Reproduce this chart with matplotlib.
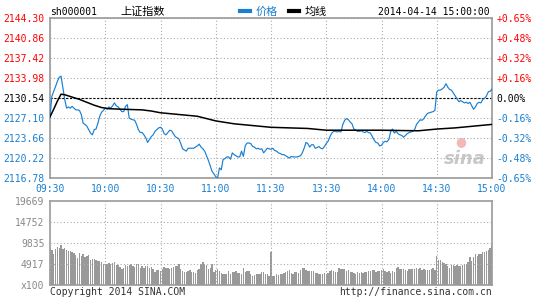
import numpy as np
import matplotlib.pyplot as plt
from matplotlib.lines import Line2D

# intraday price, one value per minute (9:30-11:30, 13:01-15:00)
price_0930 = [2127.3, 2130.8, 2131.7, 2132.5, 2133.4, 2134.1, 2134.3, 2132.3, 2130.3, 2128.8, 2129.0,
              2128.8, 2129.1, 2128.8, 2128.5, 2128.5, 2128.4, 2127.7, 2126.2, 2126.0, 2125.7,
              2125.1, 2124.5, 2124.2, 2125.1, 2125.2, 2126.2, 2127.4, 2128.1, 2128.4, 2128.8]
price_1000 = [2128.6, 2129.0, 2128.8, 2129.2, 2129.7, 2129.2, 2129.0, 2128.6, 2128.2, 2128.2,
              2129.1, 2129.4, 2127.1, 2126.9, 2126.8, 2126.7, 2126.0, 2125.1, 2124.6, 2124.6,
              2124.2, 2123.7, 2122.9, 2123.4, 2123.9, 2124.2, 2124.8, 2125.1, 2125.4, 2125.5]
price_1030 = [2125.2, 2124.4, 2124.2, 2124.6, 2125.0, 2124.9, 2124.4, 2123.9, 2123.7, 2123.5,
              2122.7, 2121.8, 2121.6, 2121.4, 2121.9, 2121.9, 2121.9, 2121.9, 2122.1, 2122.3,
              2122.6, 2122.1, 2121.8, 2121.4, 2120.6, 2119.8, 2118.9, 2117.9, 2117.5, 2117.0]
price_1100 = [2116.8, 2118.5, 2118.2, 2120.0, 2120.1, 2120.4, 2120.4, 2120.0, 2121.1, 2120.8,
              2120.6, 2120.4, 2120.4, 2121.4, 2120.5, 2122.3, 2122.8, 2122.8, 2122.7, 2122.2,
              2122.1, 2121.8, 2121.9, 2121.7, 2121.8, 2121.1, 2121.5, 2121.9, 2121.8, 2121.7]
price_1300 = [2121.9, 2121.5, 2121.4, 2121.1, 2121.0, 2120.8, 2120.8, 2120.6, 2120.4, 2120.2,
              2120.5, 2120.4, 2120.4, 2120.4, 2120.5, 2120.6, 2121.1, 2121.9, 2122.9, 2122.7,
              2122.1, 2122.5, 2122.5, 2121.9, 2122.0, 2122.2, 2121.9, 2121.8, 2122.2, 2122.7]
price_1330 = [2123.1, 2123.9, 2124.5, 2124.8, 2124.8, 2124.7, 2124.8, 2124.7, 2126.0, 2126.7,
              2127.0, 2126.8, 2126.4, 2126.1, 2125.2, 2125.0, 2124.8, 2124.8, 2124.9, 2124.7,
              2124.6, 2124.8, 2124.6, 2124.5, 2123.9, 2123.3, 2122.9, 2122.8, 2122.3, 2122.4]
price_1400 = [2122.9, 2123.1, 2123.0, 2123.4, 2124.8, 2125.2, 2124.5, 2124.8, 2124.4, 2124.2,
              2124.1, 2123.8, 2124.1, 2124.4, 2124.6, 2124.7, 2124.8, 2125.1, 2126.0, 2126.4,
              2126.8, 2126.7, 2127.0, 2127.5, 2127.9, 2128.0, 2128.1, 2128.2, 2128.4, 2131.6]
price_1430 = [2131.9, 2131.9, 2132.1, 2132.4, 2133.0, 2132.4, 2132.0, 2131.9, 2131.4, 2130.9,
              2130.4, 2129.9, 2130.1, 2129.9, 2129.7, 2129.8, 2129.6, 2129.8, 2129.2, 2128.6,
              2129.0, 2129.6, 2129.8, 2129.7, 2130.3, 2130.5, 2130.9, 2131.6, 2131.7, 2132.1]

# average price line (minute index, value)
avg_minute = [0, 2, 4, 6, 8, 12, 16, 20, 24, 28, 32, 40, 50, 55, 60, 70, 80, 90, 100, 110,
              120, 130, 140, 150, 180, 200, 210, 220, 230, 240]
avg_price = [2127.3, 2128.6, 2130.0, 2131.2, 2131.1, 2130.7, 2130.3, 2129.8, 2129.3, 2128.9,
             2128.7, 2128.6, 2128.5, 2128.3, 2128.0, 2127.7, 2127.4, 2126.6, 2126.1, 2125.8,
             2125.5, 2125.4, 2125.3, 2125.0, 2125.0, 2124.9, 2125.2, 2125.4, 2125.7, 2126.0]

# volume (x100), one bar per minute
vol_0930 = [8740, 8200, 7260, 8430, 8980, 8590, 9370, 8430, 8740, 8200, 7960, 7880, 7650, 7420,
            7020, 6400, 7490, 6790, 7260, 6630, 6790, 6950, 5850, 6090, 6090, 5850, 5620, 5620,
            5460, 5000, 5000]
vol_1000 = [5000, 5150, 5000, 5150, 5310, 4680, 4680, 4290, 3750, 4060, 4680, 4370, 4680, 5000,
            4530, 4220, 4840, 4840, 3900, 4530, 4060, 4530, 4370, 3900, 4220, 3750, 3120, 3430,
            3430, 3280]
vol_1030 = [3750, 4220, 3900, 3900, 3750, 3900, 4220, 4370, 4370, 4840, 3750, 3280, 3120, 2970,
            3280, 3430, 2970, 3120, 2810, 3590, 3750, 5000, 5310, 5000, 4680, 3750, 3900, 4840,
            2970, 3430]
vol_1100 = [3750, 3280, 2810, 2500, 2500, 2500, 3280, 2500, 2970, 2970, 3280, 2810, 2810, 2650,
            3900, 2970, 3280, 3280, 2650, 2190, 2340, 2650, 2500, 2650, 3120, 2970, 2650, 2500,
            2190, 7650]
vol_1300 = [2030, 2030, 2500, 2340, 2500, 2500, 2810, 2970, 3280, 3430, 2810, 2650, 3120, 2970,
            2810, 3590, 3900, 3900, 3430, 3280, 3280, 3280, 3280, 2810, 2810, 2650, 2500, 2650,
            2810, 2500]
vol_1330 = [2810, 3280, 3430, 3280, 3120, 3120, 3900, 3750, 3750, 3750, 3280, 3430, 2970, 2970,
            2810, 2650, 3120, 2810, 2970, 2810, 2970, 3120, 3280, 3280, 3430, 3430, 3120, 3280,
            3280, 3430]
vol_1400 = [3750, 3280, 3120, 3280, 2810, 3280, 2970, 4060, 4220, 3750, 3750, 3750, 3590, 3280,
            3750, 3750, 3750, 3750, 3900, 3750, 4060, 3430, 3750, 3590, 3590, 3430, 3750, 4060,
            3590, 6870]
vol_1430 = [5780, 5780, 5310, 5150, 4840, 4530, 4060, 4680, 4680, 4530, 4680, 4530, 4530, 4680,
            4840, 4840, 5310, 6560, 5620, 6560, 7180, 6710, 7340, 7340, 7650, 7800, 7960, 8270,
            8580, 9370]

pre_close = 2130.54
price_ticks = [2116.78, 2120.22, 2123.66, 2127.10, 2130.54, 2133.98, 2137.42, 2140.86, 2144.30]
pct_labels = ['-0.65%', '-0.48%', '-0.32%', '-0.16%', '0.00%', '+0.16%', '+0.32%', '+0.48%', '+0.65%']
vol_ticks = [0, 4917, 9835, 14752, 19669]
vol_labels = ['x100', '4917', '9835', '14752', '19669']
time_labels = ['09:30', '10:00', '10:30', '11:00', '11:30', '13:30', '14:00', '14:30', '15:00']

price = np.array(price_0930 + price_1000 + price_1030 + price_1100 +
                 price_1300 + price_1330 + price_1400 + price_1430)
vol = np.array(vol_0930 + vol_1000 + vol_1030 + vol_1100 +
               vol_1300 + vol_1330 + vol_1400 + vol_1430)
minutes = np.arange(len(price))

blue = '#1a7fd0'
red = '#ff0000'
gray = '#999999'
mono = 'DejaVu Sans Mono'
cjk = ['Noto Sans CJK SC', 'DejaVu Sans']

W, H = 545, 300
fig = plt.figure(figsize=(W / 100, H / 100), dpi=100)
fig.patch.set_facecolor('white')

ax = fig.add_axes([50 / W, 1 - 178 / H, 442 / W, 160 / H])
axv = fig.add_axes([50 / W, 1 - 285 / H, 442 / W, 84 / H])

# price panel
ax.plot(minutes, price, color=blue, lw=0.85, zorder=3)
ax.plot(avg_minute, avg_price, color='black', lw=1.1, zorder=4)
ax.axhline(pre_close, color='black', lw=0.8, ls=(0, (2, 1.5)), zorder=2)
ax.set_xlim(0, 240)
ax.set_ylim(price_ticks[0], price_ticks[-1])
ax.set_xticks(np.arange(0, 241, 30))
ax.set_xticklabels(time_labels)
ax.set_yticks(price_ticks)
ax.set_yticklabels(['%.2f' % v for v in price_ticks])
ax.grid(True, color='#aaaaaa', ls=(0, (1, 2)), lw=0.8)
ax.tick_params(length=0, pad=4, labelsize=7)
for lab in ax.get_xticklabels():
    lab.set_color(blue)
    lab.set_family(mono)
for lab, v in zip(ax.get_yticklabels(), price_ticks):
    lab.set_family(mono)
    lab.set_color(red if v > pre_close else ('black' if v == pre_close else blue))
for s in ax.spines.values():
    s.set_color(gray)
    s.set_linewidth(1.2)

ax2 = ax.twinx()
ax2.set_ylim(price_ticks[0], price_ticks[-1])
ax2.set_yticks(price_ticks)
ax2.set_yticklabels(pct_labels)
ax2.tick_params(length=0, pad=3, labelsize=7)
for lab, v in zip(ax2.get_yticklabels(), price_ticks):
    lab.set_family(mono)
    lab.set_color(red if v > pre_close else ('black' if v == pre_close else blue))
for s in ax2.spines.values():
    s.set_visible(False)

ax.text(0.985, 0.12, 'sina', transform=ax.transAxes, ha='right', va='center',
        fontsize=13, fontweight='bold', style='italic', color='#c8c8c8', zorder=1)
ax.text(0.93, 0.23, '●', transform=ax.transAxes, ha='center', va='center',
        fontsize=9, color='#f5b8b8', zorder=1)

# volume panel
axv.bar(minutes, vol, width=0.75, color=gray, lw=0, zorder=2)
axv.set_xlim(0, 240)
axv.set_ylim(0, vol_ticks[-1])
axv.set_xticks(np.arange(0, 241, 30))
axv.set_xticklabels([])
axv.set_yticks(vol_ticks)
axv.set_yticklabels(vol_labels)
axv.grid(True, color='#aaaaaa', ls=(0, (1, 2)), lw=0.8, zorder=3)
axv.set_axisbelow(False)
axv.tick_params(length=0, pad=4, labelsize=7, labelcolor='#888888')
for lab in axv.get_yticklabels():
    lab.set_family(mono)
for s in axv.spines.values():
    s.set_color(gray)
    s.set_linewidth(1.2)

# header
fig.text(50 / W, 1 - 12 / H, 'sh000001', fontsize=7, family=mono, va='center')
fig.text(120 / W, 1 - 12 / H, '上证指数', fontsize=8, family=cjk, va='center')
fig.add_artist(Line2D([240 / W, 250 / W], [1 - 11 / H, 1 - 11 / H], color=blue, lw=3))
fig.text(256 / W, 1 - 12 / H, '价格', fontsize=8, family=cjk, va='center', color=blue)
fig.add_artist(Line2D([289 / W, 299 / W], [1 - 11 / H, 1 - 11 / H], color='black', lw=3))
fig.text(305 / W, 1 - 12 / H, '均线', fontsize=8, family=cjk, va='center')
fig.text(490 / W, 1 - 12 / H, '2014-04-14 15:00:00', fontsize=7, family=mono,
         va='center', ha='right')

# footer
fig.text(50 / W, 1 - 292 / H, 'Copyright 2014 SINA.COM', fontsize=7, family=mono,
         va='center', color='#333333')
fig.text(492 / W, 1 - 292 / H, 'http://finance.sina.com.cn', fontsize=7, family=mono,
         va='center', ha='right', color='#333333')

fig.savefig('out.png', dpi=100)
